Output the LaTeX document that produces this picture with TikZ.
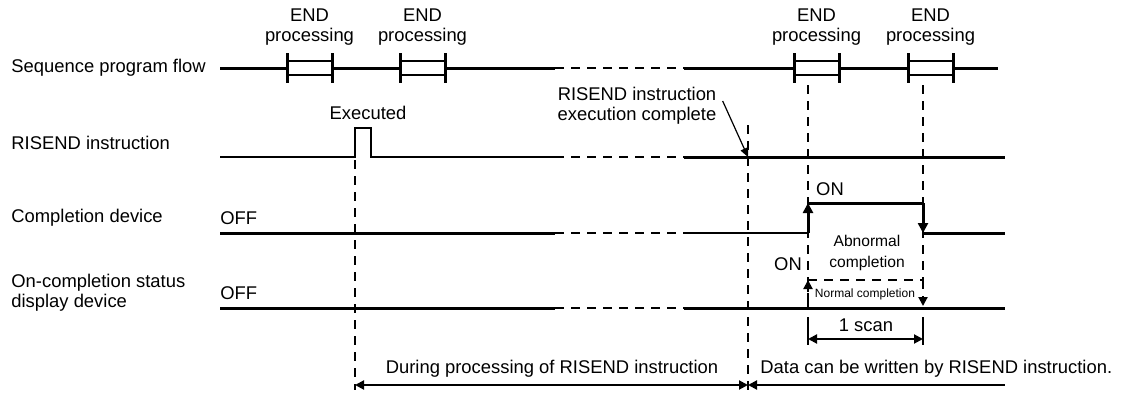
\documentclass[tikz,border=0pt]{standalone}
\usepackage{fontspec}
\setmainfont{Liberation Sans}
\usepackage{tikz}
\usetikzlibrary{arrows.meta,positioning,calc}

\begin{document}
\begin{tikzpicture}[
    x=0.5pt,y=-0.5pt,
    font=\fontsize{9.2}{10}\selectfont,
    lbl/.style={inner sep=0pt,align=left},
    wave/.style={line width=1.5pt},
    thinwave/.style={line width=1pt},
    guide/.style={line width=1pt,dash pattern=on 4.5pt off 3.5pt},
    edge/.style={line width=1.5pt,-{Triangle[length=5pt,width=5pt]}},
    dim/.style={line width=1pt,{Triangle[length=4.5pt,width=4.5pt]}-{Triangle[length=4.5pt,width=4.5pt]}},
    ptr/.style={line width=0.6pt,-{Triangle[length=4.5pt,width=4pt]}}
  ]
    \useasboundingbox (0,0) rectangle (1130,396);
    % signal names
    \node[lbl,anchor=west] (nflow) at (11,68) {Sequence program flow};
    \node[lbl,anchor=west] (nris) at (11,143) {RISEND instruction};
    \node[lbl,anchor=west] (ncomp) at (11,218) {Completion device};
    \node[lbl,anchor=west] (nstat) at (11,293) {On-completion status\\display device};
    \node[lbl,anchor=west] (offc) at (220,218) {OFF};
    \node[lbl,anchor=west] (offs) at (220,293) {OFF};

    % sequence program flow with END processing boxes
    \foreach \x/\n in {287/a,400/b,794/c,908/d} {
      \coordinate (end\n) at (\x,68);
      \draw[line width=1.5pt] ($(end\n)+(0,-15)$) -- ++(0,30) ($(end\n)+(45,-15)$) -- ++(0,30);
      \draw[line width=1.2pt] ($(end\n)+(0,-7)$) -- ++(45,0) ($(end\n)+(0,7)$) -- ++(45,0);
      \node[lbl,align=center] (lend\n) at ($(end\n)+(22.5,-41)$) {END\\processing};
    }
    \draw[wave] (220,68) -- (enda) ($(enda)+(45,0)$) -- (endb) ($(endb)+(45,0)$) -- (555,68);
    \draw[guide] (555,68) -- (684,68);
    \draw[wave] (684,68) -- (endc) ($(endc)+(45,0)$) -- (endd) ($(endd)+(45,0)$) -- (998,68);

    % RISEND instruction
    \draw[thinwave] (220,157) -- (355,157) -- (355,128) -- (371,128) -- (371,157) -- (555,157);
    \draw[guide] (555,157) -- (684,157);
    \draw[wave] (684,157) -- (1005,157);
    \node[lbl] (exec) at (368,113) {Executed};
    \coordinate (done) at (748,157);
    \node[lbl,align=center] (cmpl) at (637,106) {RISEND instruction\\execution complete};
    \draw[ptr] ([xshift=3pt,yshift=2.5pt]cmpl.east) -- (done);

    % completion device
    \draw[wave] (220,233) -- (555,233);
    \draw[guide] (555,233) -- (684,233);
    \draw[thinwave] (684,233) -- (808,233);
    \coordinate (cup) at (808,203);
    \coordinate (cdn) at (923,233);
    \draw[edge] (808,233) -- (cup);
    \draw[wave] (cup) -- (923,203);
    \draw[edge] (923,203) -- (cdn);
    \draw[wave] (cdn) -- (1005,233);
    \node[lbl] (onc) at (830,189) {ON};
    \node[lbl,align=center,font=\fontsize{7.8}{10.5}\selectfont] (abn) at (867,253) {Abnormal\\completion};

    % on-completion status display device
    \draw[wave] (220,308) -- (555,308);
    \draw[guide] (555,308) -- (684,308);
    \draw[wave] (684,308) -- (1005,308);
    \coordinate (sup) at (808,280);
    \coordinate (sdn) at (923,306);
    \draw[guide] (sup) -- (923,280);
    \draw[guide,-{Triangle[length=4.5pt,width=4.5pt]}] (808,308) -- (sup);
    \draw[guide,-{Triangle[length=4.5pt,width=4.5pt]}] (923,280) -- (sdn);
    \node[lbl] (ons) at (788,264) {ON};
    \node[lbl,font=\fontsize{6}{7}\selectfont] (nrm) at (865,294) {Normal completion};

    % guide lines
    \draw[guide] (355,160) -- (355,390);
    \draw[guide] (748,125) -- (748,390);
    \draw[guide] (808,85) -- (808,308);
    \draw[guide] (923,85) -- (923,280);

    % 1 scan
    \coordinate (sa) at (808,339);
    \coordinate (sb) at (923,339);
    \draw[thinwave] (808,317) -- (808,345) (923,317) -- (923,345);
    \draw[dim] (sa) -- (sb);
    \node[lbl] (scan) at (866,325) {1 scan};

    % processing periods
    \coordinate (pa) at (355,385);
    \coordinate (pb) at (748,385);
    \coordinate (pc) at (1005,385);
    \draw[dim] (pa) -- (pb);
    \draw[line width=1pt,{Triangle[length=4.5pt,width=4.5pt]}-] (pb) -- (pc);
    \node[lbl] (during) at (552,369) {During processing of RISEND instruction};
    \node[lbl,anchor=west] (avail) at (760,369) {Data can be written by RISEND instruction.};
  \end{tikzpicture}
\end{document}
